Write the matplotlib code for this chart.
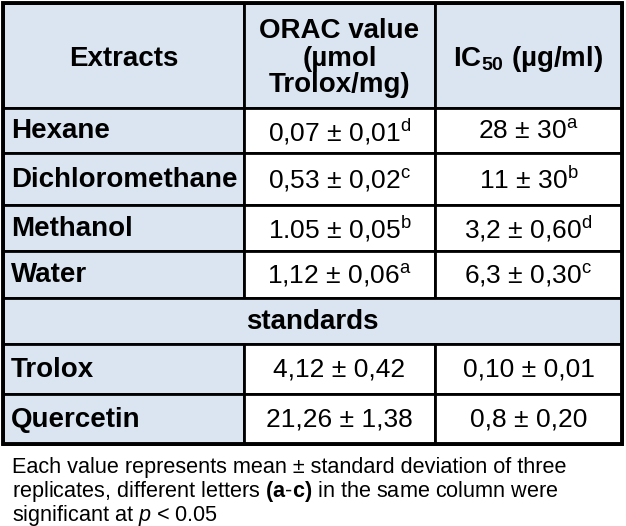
import matplotlib
matplotlib.use('Agg')
from matplotlib import pyplot as plt
from matplotlib.patches import Rectangle

plt.rcParams['font.family'] = ['Liberation Sans', 'DejaVu Sans']
plt.rcParams['mathtext.fontset'] = 'custom'
plt.rcParams['mathtext.rm'] = 'Liberation Sans'
plt.rcParams['mathtext.it'] = 'Liberation Sans:italic'
plt.rcParams['mathtext.bf'] = 'Liberation Sans:bold'

# table content
extracts = ['Hexane', 'Dichloromethane', 'Methanol', 'Water']
orac = ['0,07 ± 0,01', '0,53 ± 0,02', '1.05 ± 0,05', '1,12 ± 0,06']
orac_sup = ['d', 'c', 'b', 'a']
ic50 = ['28 ± 30', '11 ± 30', '3,2 ± 0,60', '6,3 ± 0,30']
ic50_sup = ['a', 'b', 'd', 'c']
standards = ['Trolox', 'Quercetin']
std_orac = ['4,12 ± 0,42', '21,26 ± 1,38']
std_ic50 = ['0,10 ± 0,01', '0,8 ± 0,20']
headers = ['Extracts', 'ORAC value\n(µmol\nTrolox/mg)', r'IC$_{\mathbf{50}}$ (µg/ml)']
footnote = ['Each value represents mean ± standard deviation of three',
            r'replicates, different letters $\mathbf{(a}$-$\mathbf{c)}$ in the same column were',
            r'significant at $\mathit{p}$ < 0.05']

# layout in pixels
W, H = 626, 526
col_x = [3, 244, 435, 622]
row_y = [3, 108, 153, 205, 251, 298, 344, 394, 444]
blue = '#dbe5f1'
lw = 2.0
fs_b = 20
fs_r = 19

fig = plt.figure(figsize=(W / 100, H / 100), dpi=100)
ax = fig.add_axes([0, 0, 1, 1])
ax.set_xlim(0, W)
ax.set_ylim(H, 0)
ax.axis('off')

def cell(x0, x1, y0, y1, color):
    ax.add_patch(Rectangle((x0, y0), x1 - x0, y1 - y0, facecolor=color, edgecolor='black', lw=lw, zorder=1))

# header row
for j in range(3):
    cell(col_x[j], col_x[j + 1], row_y[0], row_y[1], blue)
    ax.text((col_x[j] + col_x[j + 1]) / 2, (row_y[0] + row_y[1]) / 2 + 3, headers[j],
            ha='center', va='center', fontsize=fs_b, fontweight='bold', linespacing=1.05, zorder=3)

def data_row(r, name, v1, v2):
    y0, y1 = row_y[r], row_y[r + 1]
    yc = (y0 + y1) / 2 + 1
    cell(col_x[0], col_x[1], y0, y1, blue)
    cell(col_x[1], col_x[2], y0, y1, 'white')
    cell(col_x[2], col_x[3], y0, y1, 'white')
    ax.text(col_x[0] + 8, yc, name, ha='left', va='center', fontsize=fs_b, fontweight='bold', zorder=3)
    ax.text((col_x[1] + col_x[2]) / 2, yc, v1, ha='center', va='center', fontsize=fs_r, zorder=3)
    ax.text((col_x[2] + col_x[3]) / 2, yc, v2, ha='center', va='center', fontsize=fs_r, zorder=3)

for i, name in enumerate(extracts):
    data_row(i + 1, name, orac[i] + r'$^{\mathrm{' + orac_sup[i] + '}}$',
             ic50[i] + r'$^{\mathrm{' + ic50_sup[i] + '}}$')

# standards band
cell(col_x[0], col_x[3], row_y[5], row_y[6], blue)
ax.text((col_x[0] + col_x[3]) / 2, (row_y[5] + row_y[6]) / 2 + 1, 'standards',
        ha='center', va='center', fontsize=fs_b, fontweight='bold', zorder=3)

for i, name in enumerate(standards):
    data_row(i + 6, name, std_orac[i], std_ic50[i])

# outer frame
ax.add_patch(Rectangle((col_x[0], row_y[0]), col_x[3] - col_x[0], row_y[-1] - row_y[0],
                       fill=False, edgecolor='black', lw=lw + 0.8, zorder=4))

for k, line in enumerate(footnote):
    ax.text(12, 468 + k * 23.5, line, ha='left', va='center', fontsize=15.6, zorder=3)

fig.savefig('out.png', dpi=100)
